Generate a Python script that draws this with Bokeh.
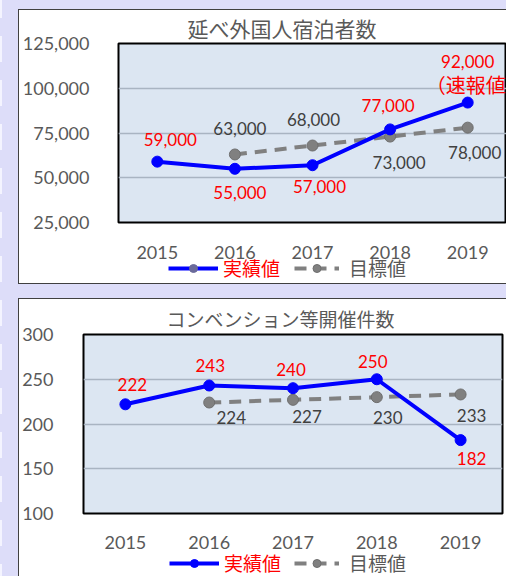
from bokeh.plotting import figure
from bokeh.layouts import column
from bokeh.models import (FactorRange, Range1d, FixedTicker, NumeralTickFormatter,
                          Legend, LegendItem)
from bokeh.core.properties import value
from bokeh.embed import file_html
from bokeh.resources import INLINE

# ---------------- data ----------------
years = ["2015", "2016", "2017", "2018", "2019"]
target_years = ["2016", "2017", "2018", "2019"]

stay_title = "延べ外国人宿泊者数"
stay_actual = [59000, 55000, 57000, 77000, 92000]
stay_target = [63000, 68000, 73000, 78000]
stay_ticks = [25000, 50000, 75000, 100000, 125000]
stay_note = "（速報値）"

conv_title = "コンベンション等開催件数"
conv_actual = [222, 243, 240, 250, 182]
conv_target = [224, 227, 230, 233]
conv_ticks = [100, 150, 200, 250, 300]

legend_actual = "実績値"
legend_target = "目標値"

# ---------------- styles ----------------
BG = "#DDDDF9"
PLOT_BG = "#DCE6F2"
BLUE = "#0000FF"
GRAY = "#808080"
RED = "#FF0000"
TXT = "#595959"
LBL = "#404040"
NUM_FONT = "Lato, Noto Sans CJK JP"
CJK_FONT = "Noto Sans CJK JP"

# label offsets (pixels)
stay_a_dx = [13, 5, 7, -2, 0]
stay_a_dy = [-22, 24, 21, -24, -41]
stay_t_dx = [5, 1, 9, 7]
stay_t_dy = [-26, -26, 26, 25]
conv_a_dx = [7, 1, -2, -4, 11]
conv_a_dy = [-20, -20, -19, -18, 18]
conv_t_dx = [22, 14, 11, 11]
conv_t_dy = [15, 17, 20, 21]


def make_chart(title, title_size, title_off, title_standoff, actual, target, ticks, h,
               left, right, bottom, x_std, y_std, a_dx, a_dy, t_dx, t_dy,
               leg_x1, leg_x2, leg_y, legend_marker_color):
    p = figure(x_range=FactorRange(*years), y_range=Range1d(ticks[0], ticks[-1]),
               width=487, height=h, output_backend="svg", toolbar_location=None,
               min_border_left=left, min_border_right=right, min_border_top=33,
               min_border_bottom=bottom, background_fill_color=PLOT_BG,
               border_fill_alpha=0, outline_line_color="black",
               outline_line_width=2)
    p.title.text = title
    p.title.text_font = CJK_FONT
    p.title.text_font_size = title_size
    p.title.text_font_style = "normal"
    p.title.text_color = TXT
    p.title.align = "left"
    p.title.offset = title_off
    p.title.standoff = title_standoff

    p.xaxis.axis_line_color = None
    p.yaxis.axis_line_color = None
    p.xaxis.major_tick_line_color = None
    p.yaxis.major_tick_line_color = None
    p.xaxis.minor_tick_line_color = None
    p.yaxis.minor_tick_line_color = None
    p.xaxis.major_label_text_font = NUM_FONT
    p.yaxis.major_label_text_font = NUM_FONT
    p.xaxis.major_label_text_font_size = "18px"
    p.yaxis.major_label_text_font_size = "18px"
    p.xaxis.major_label_text_color = TXT
    p.yaxis.major_label_text_color = TXT
    p.xaxis.major_label_standoff = x_std
    p.yaxis.major_label_standoff = y_std
    p.yaxis.ticker = FixedTicker(ticks=ticks)
    p.yaxis.formatter = NumeralTickFormatter(format="0,0")
    p.xgrid.grid_line_color = None
    p.ygrid.grid_line_color = "#A9B4C2"
    p.ygrid.grid_line_width = 1.5

    p.line(target_years, target, line_color=GRAY, line_width=4, line_dash="12 8")
    p.scatter(target_years, target, size=11, fill_color=GRAY, line_color="#6E6E6E")
    p.line(years, actual, line_color=BLUE, line_width=4)
    p.scatter(years, actual, size=11, fill_color=BLUE, line_color=BLUE)

    p.text(x=years, y=actual, text=[f"{v:,}" for v in actual], x_offset=a_dx, y_offset=a_dy,
           text_align="center", text_baseline="middle", text_font=value(NUM_FONT),
           text_font_size="17px", text_color=RED)
    p.text(x=target_years, y=target, text=[f"{v:,}" for v in target], x_offset=t_dx,
           y_offset=t_dy, text_align="center", text_baseline="middle",
           text_font=value(NUM_FONT), text_font_size="17px", text_color=LBL)

    # legend strip: its own transparent canvas below the chart, so the legend is not
    # clipped by the plot frame. Its series lie outside its (0..1) y-range, so only the
    # legend samples are visible.
    lf = figure(width=487, height=30, output_backend="svg", toolbar_location=None,
                x_range=FactorRange(*years), y_range=Range1d(0, 1),
                x_axis_type=None, y_axis_type=None,
                min_border_left=left, min_border_right=right, min_border_top=0,
                min_border_bottom=0, background_fill_alpha=0,
                border_fill_alpha=0, outline_line_color=None)
    lf.grid.grid_line_color = None
    la = lf.line(years, actual, line_color=BLUE, line_width=4)
    lm = lf.scatter(years, actual, size=11, fill_color=legend_marker_color,
                    line_color=legend_marker_color)
    lt = lf.line(target_years, target, line_color=GRAY, line_width=4, line_dash="12 8")
    ltm = lf.scatter(target_years, target, size=11, fill_color=GRAY, line_color="#6E6E6E")

    common = dict(padding=0, margin=0, border_line_color=None, background_fill_alpha=0,
                  label_text_font=CJK_FONT, label_text_font_size="19px",
                  glyph_height=20, label_height=20, orientation="horizontal")
    leg1 = Legend(items=[LegendItem(label=legend_actual, renderers=[la, lm])],
                  location=(leg_x1, leg_y), glyph_width=50,
                  label_standoff=5, label_text_color=RED, **common)
    leg2 = Legend(items=[LegendItem(label=legend_target, renderers=[lt, ltm])],
                  location=(leg_x2, leg_y), glyph_width=45,
                  label_standoff=10, label_text_color=TXT, **common)
    lf.add_layout(leg1)
    lf.add_layout(leg2)
    return p, lf


p1, lf1 = make_chart(stay_title, "21px", 69, 1, stay_actual, stay_target, stay_ticks, 251,
                     94, 0, 39, 17, 23, stay_a_dx, stay_a_dy, stay_t_dx, stay_t_dy,
                     50, 176, 2, "#6A6A9A")
p1.text(x=[years[-1]], y=[stay_actual[-1]], text=[stay_note], x_offset=[8], y_offset=[-18],
        text_align="center", text_baseline="middle", text_font=value(CJK_FONT),
        text_font_size="20px", text_color=RED)

p2, lf2 = make_chart(conv_title, "19px", 83, 6, conv_actual, conv_target, conv_ticks, 253,
                     58, 4, 39, 16, 24, conv_a_dx, conv_a_dy, conv_t_dx, conv_t_dy,
                     86, 211, 0, BLUE)

lf1.margin = (-8, 0, 0, 0)
lf2.margin = (-6, 0, 0, 0)

box_style = {"background-color": "white", "outline": "1px solid #404040"}
box1 = column(p1, lf1, styles=box_style)
box2 = column(p2, lf2, styles=box_style)
box1.margin = (10, 0, 16, 19)
box2.margin = (0, 0, 0, 19)

layout = column(box1, box2, styles={
    "background-color": BG,
    "background-image": "linear-gradient(to bottom, #F4F4FF 26px, rgba(0,0,0,0) 26px)",
    "background-size": "2px 44px",
    "background-position": "0px 36px",
    "background-repeat": "repeat-y",
})

open("out.html", "w").write(file_html(layout, INLINE))
